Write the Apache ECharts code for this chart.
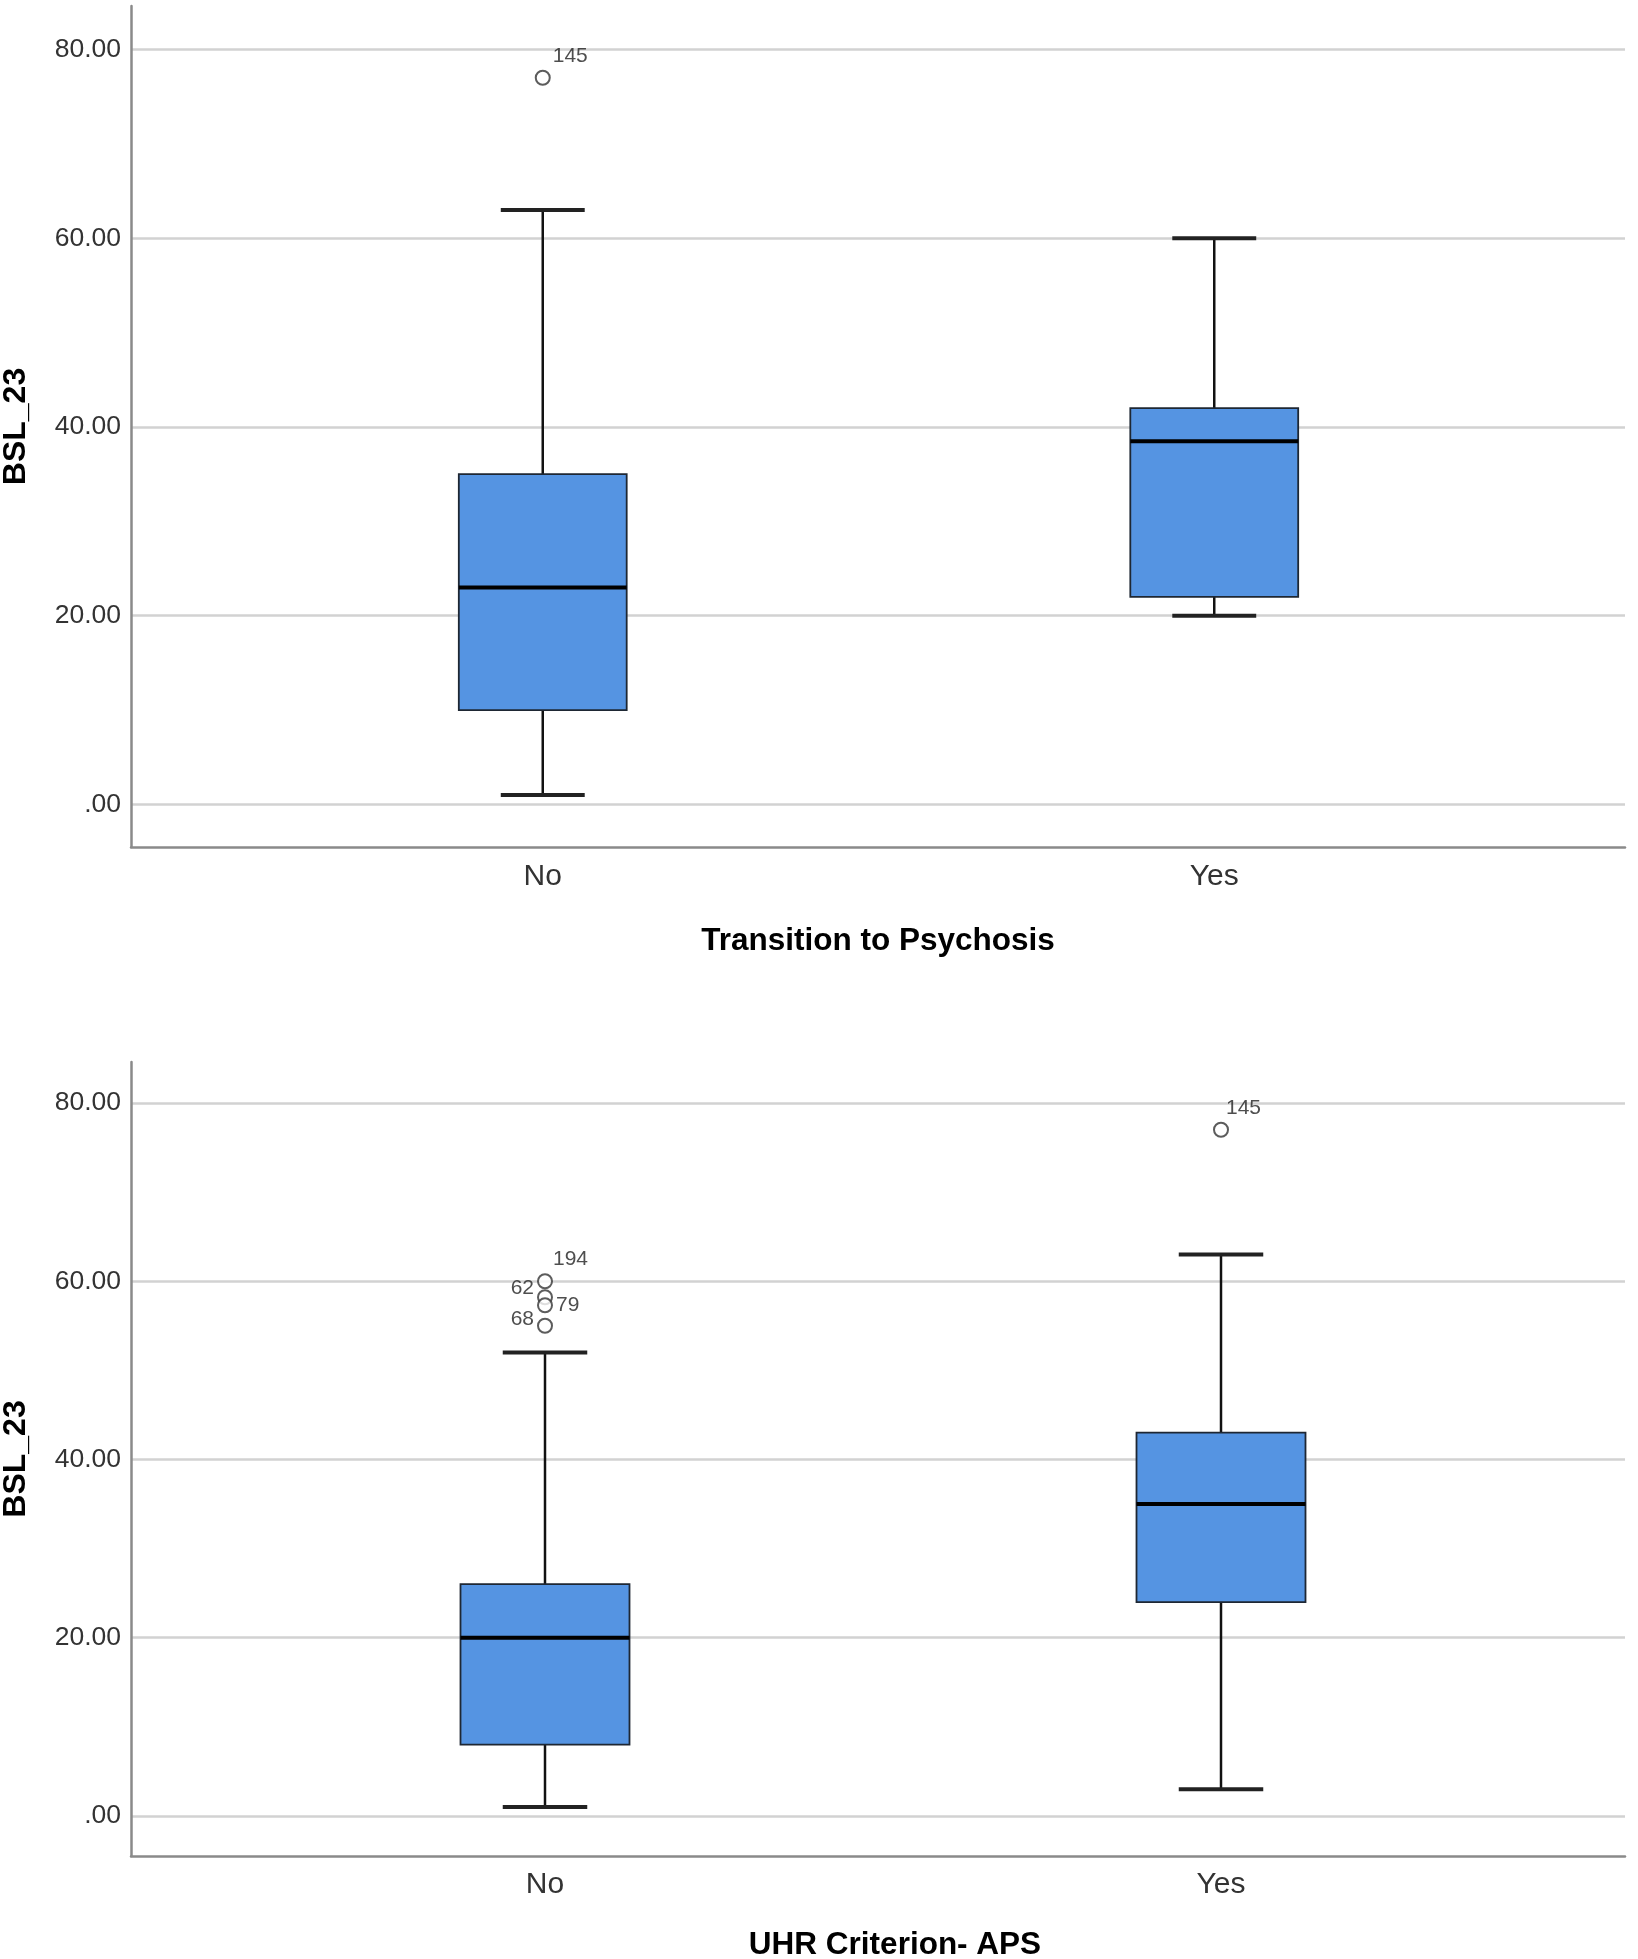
<!DOCTYPE html>
<html>
<head>
<meta charset="utf-8">
<style>
html,body{margin:0;padding:0;background:#fff;}
#chart{width:1638px;height:1959px;}
</style>
<script src="https://cdn.jsdelivr.net/npm/echarts@6.0.0/dist/echarts.min.js"></script>
</head>
<body>
<div id="chart"></div>
<script>
// ---- data ----
const categories = ['No', 'Yes'];
const yTicks = [0, 20, 40, 60, 80];
const yAxisName = 'BSL_23';

// Chart 1: Transition to Psychosis  [low whisker, Q1, median, Q3, high whisker]
const transTitle = 'Transition to Psychosis';
const transNo  = [1, 10, 23, 35, 63];
const transYes = [20, 22, 38.5, 42, 60];
const transOutlierCat = [0];
const transOutlierVal = [77];
const transOutlierId  = ['145'];

// Chart 2: UHR Criterion- APS
const apsTitle = 'UHR Criterion- APS';
const apsNo  = [1, 8, 20, 26, 52];
const apsYes = [3, 24, 35, 43, 63];
const apsOutlierCat = [0, 0, 0, 0, 1];
const apsOutlierVal = [60, 58.2, 57.3, 55, 77];
const apsOutlierId  = ['194', '62', '79', '68', '145'];

// ---- styling ----
const FONT = "'Liberation Sans', Arial, sans-serif";
const Y_MIN = -4.5, Y_MAX = 84.6;
const boxFill = '#5594e2';

// label placement for outlier case numbers (styling, keyed by chart and id)
const labelPlace = {
  t145: {position: 'right', offset: [2, -22]},
  a194: {position: 'right', offset: [0, -22]},
  a62:  {position: 'left',  offset: [-3, -9]},
  a79:  {position: 'right', offset: [3, 0]},
  a68:  {position: 'left',  offset: [-3, -7]},
  a145: {position: 'right', offset: [-3, -22]}
};

function boxRender(params, api) {
  const ci = api.value(0);
  const xc = api.coord([ci, 0])[0];
  const band = api.size([1, 0])[0];
  const hb = band * 0.125, hc = band * 0.0625;
  const yy = i => api.coord([ci, api.value(i)])[1];
  const yLow = yy(1), yQ1 = yy(2), yMed = yy(3), yQ3 = yy(4), yHigh = yy(5);
  const w = {stroke: '#111', lineWidth: 2.5};
  const cap = {stroke: '#222', lineWidth: 4};
  return {
    type: 'group',
    children: [
      {type: 'line', shape: {x1: xc, y1: yQ1, x2: xc, y2: yLow}, style: w},
      {type: 'line', shape: {x1: xc, y1: yQ3, x2: xc, y2: yHigh}, style: w},
      {type: 'line', shape: {x1: xc - hc, y1: yLow, x2: xc + hc, y2: yLow}, style: cap},
      {type: 'line', shape: {x1: xc - hc, y1: yHigh, x2: xc + hc, y2: yHigh}, style: cap},
      {type: 'rect', shape: {x: xc - hb, y: yQ3, width: 2 * hb, height: yQ1 - yQ3},
        style: {fill: boxFill, stroke: '#1e2733', lineWidth: 1.8}},
      {type: 'line', shape: {x1: xc - hb, y1: yMed, x2: xc + hb, y2: yMed},
        style: {stroke: '#000', lineWidth: 4}}
    ]
  };
}

function outlierData(cats, vals, ids, prefix) {
  return cats.map((c, i) => {
    const p = labelPlace[prefix + ids[i]] || {position: 'right', offset: [0, 0]};
    return {
      name: ids[i],
      value: [c, vals[i]],
      label: {position: p.position, offset: p.offset, distance: 0}
    };
  });
}

function axisYVisible(gi, name) {
  return {
    gridIndex: gi, type: 'value', min: Y_MIN, max: Y_MAX,
    name: name, nameLocation: 'middle', nameGap: 99, nameRotate: 90,
    nameTextStyle: {fontFamily: FONT, fontSize: 32, fontWeight: 'bold', color: '#000'},
    axisLine: {show: true, lineStyle: {color: '#8a8a8a', width: 2.5}},
    axisTick: {show: false, customValues: yTicks},
    axisLabel: {
      customValues: yTicks, margin: 10,
      fontFamily: FONT, fontSize: 26.5, color: '#333',
      formatter: v => v === 0 ? '.00' : Number(v).toFixed(2)
    },
    splitLine: {show: true, lineStyle: {color: '#d2d2d2', width: 2.5}}
  };
}
function axisYHidden(gi) {
  return {gridIndex: gi, type: 'value', min: Y_MIN, max: Y_MAX, show: false,
          splitLine: {show: false}};
}
function axisXLine(gi, title, gap, pad) {
  return {
    gridIndex: gi, type: 'category', data: categories,
    name: title, nameLocation: 'middle', nameGap: gap,
    nameTextStyle: {fontFamily: FONT, fontSize: 31.5, fontWeight: 'bold', color: '#000',
                    padding: pad},
    axisLine: {show: true, onZero: false, lineStyle: {color: '#8a8a8a', width: 2.5}},
    axisTick: {show: false}, axisLabel: {show: false}, splitLine: {show: false}
  };
}
function axisXLabels(gi, margin) {
  return {
    gridIndex: gi, type: 'category', data: categories,
    axisLine: {show: false, onZero: false}, axisTick: {show: false},
    axisLabel: {margin: margin, fontFamily: FONT, fontSize: 30, color: '#333'},
    splitLine: {show: false}
  };
}
function scatterSeries(xi, yi, data) {
  return {
    type: 'scatter', xAxisIndex: xi, yAxisIndex: yi, data: data,
    symbol: 'circle', symbolSize: 14, z: 5,
    itemStyle: {color: '#fff', borderColor: '#333', borderWidth: 2},
    label: {show: true, formatter: p => p.name, fontFamily: FONT, fontSize: 21, color: '#222'}
  };
}

const gridBase = {outerBoundsMode: 'none', containLabel: false};
const option = {
  backgroundColor: '#fff',
  animation: false,
  grid: [
    Object.assign({left: 131, right: 13, top: 6, height: 841}, gridBase),
    Object.assign({left: 207, right: 88, top: 6, height: 841}, gridBase),
    Object.assign({left: 131, right: 13, top: 1062, height: 794}, gridBase),
    Object.assign({left: 207, right: 79, top: 1062, height: 794}, gridBase)
  ],
  xAxis: [
    axisXLine(0, transTitle, 78, [0, 0, 0, 0]),
    axisXLabels(1, 15),
    axisXLine(2, apsTitle, 73, [0, 0, 0, 34]),
    axisXLabels(3, 14)
  ],
  yAxis: [
    axisYVisible(0, yAxisName),
    axisYHidden(1),
    axisYVisible(2, yAxisName),
    axisYHidden(3)
  ],
  series: [
    {type: 'custom', xAxisIndex: 1, yAxisIndex: 1, renderItem: boxRender,
     encode: {x: 0, y: [1, 2, 3, 4, 5]}, z: 3,
     data: [[0].concat(transNo), [1].concat(transYes)]},
    scatterSeries(1, 1, outlierData(transOutlierCat, transOutlierVal, transOutlierId, 't')),
    {type: 'custom', xAxisIndex: 3, yAxisIndex: 3, renderItem: boxRender,
     encode: {x: 0, y: [1, 2, 3, 4, 5]}, z: 3,
     data: [[0].concat(apsNo), [1].concat(apsYes)]},
    scatterSeries(3, 3, outlierData(apsOutlierCat, apsOutlierVal, apsOutlierId, 'a'))
  ]
};

const chart = echarts.init(document.getElementById('chart'), null, {renderer: 'canvas'});
chart.setOption(option);
</script>
</body>
</html>
